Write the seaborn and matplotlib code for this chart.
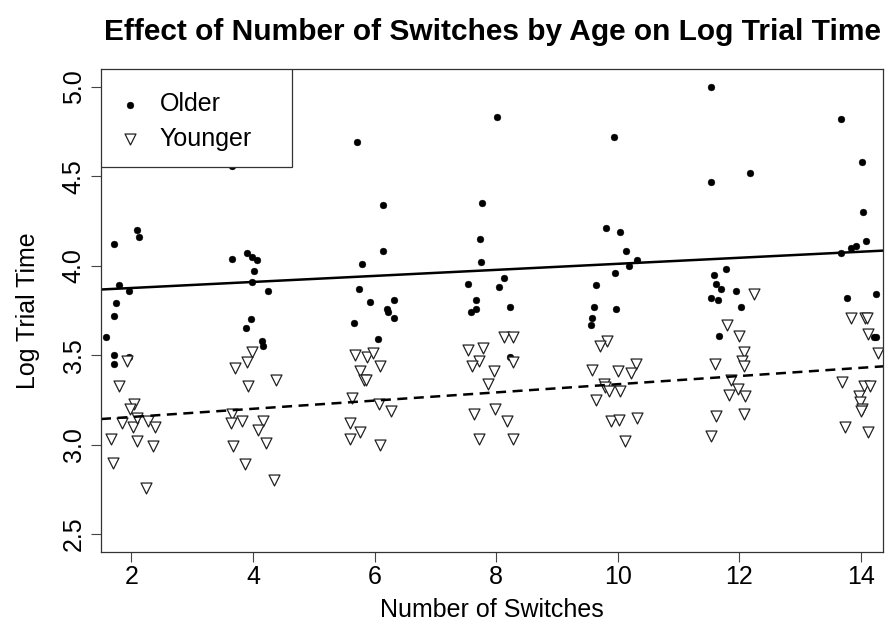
import numpy as np
import pandas as pd
import matplotlib
matplotlib.use("Agg")
import matplotlib.pyplot as plt
import seaborn as sns
from matplotlib.patches import Rectangle

# jittered points (x = number of switches + jitter)
older_x = [2.09, 2.13, 1.71, 1.79, 1.96, 1.75, 1.72, 1.59, 1.72, 1.72, 1.96,
           3.66, 3.66, 3.90, 3.98, 4.07, 4.02, 3.99, 4.25, 3.96, 3.89, 4.15, 4.16,
           5.71, 6.13, 6.13, 5.80, 5.74, 5.92, 6.32, 6.20, 6.22, 6.32, 5.66, 6.06,
           8.01, 7.77, 7.74, 7.75, 7.54, 8.12, 8.05, 7.67, 7.66, 7.59, 8.23, 8.23,
           9.93, 9.80, 10.03, 10.13, 10.31, 10.18, 9.96, 9.64, 9.60, 9.97, 9.58, 9.56,
           11.53, 11.53, 12.18, 11.77, 11.58, 11.61, 11.69, 11.94, 11.53, 11.65, 12.02, 11.67,
           13.67, 14.01, 14.03, 14.08, 13.91, 13.84, 13.67, 13.77, 14.24, 14.22, 14.24]
older_y = [4.20, 4.16, 4.12, 3.89, 3.86, 3.79, 3.72, 3.60, 3.50, 3.45, 3.49,
           4.56, 4.04, 4.07, 4.05, 4.03, 3.97, 3.91, 3.86, 3.70, 3.65, 3.58, 3.55,
           4.69, 4.34, 4.08, 4.01, 3.87, 3.80, 3.81, 3.76, 3.74, 3.71, 3.68, 3.59,
           4.83, 4.35, 4.15, 4.02, 3.90, 3.93, 3.88, 3.81, 3.76, 3.74, 3.77, 3.49,
           4.72, 4.21, 4.19, 4.08, 4.03, 4.00, 3.96, 3.89, 3.77, 3.76, 3.71, 3.67,
           5.00, 4.47, 4.52, 3.98, 3.95, 3.90, 3.87, 3.86, 3.82, 3.81, 3.77, 3.61,
           4.82, 4.58, 4.30, 4.14, 4.11, 4.10, 4.07, 3.82, 3.84, 3.60, 3.60]

younger_x = [1.92, 1.79, 2.05, 1.98, 1.85, 2.03, 2.09, 2.28, 2.39, 1.67, 2.09, 2.36, 1.69, 2.24,
             3.98, 3.90, 3.71, 3.92, 4.37, 3.66, 3.64, 3.82, 4.17, 4.09, 3.67, 4.21, 3.86, 4.35,
             5.68, 5.87, 5.97, 6.08, 5.76, 5.82, 5.86, 5.63, 6.07, 6.27, 5.60, 5.76, 5.59, 6.09,
             8.12, 8.27, 7.54, 7.79, 7.72, 7.60, 8.27, 7.97, 7.86, 7.64, 7.98, 8.18, 7.72, 8.27,
             9.82, 9.70, 9.58, 10.01, 10.30, 10.21, 9.77, 9.79, 9.86, 10.03, 9.64, 9.89, 10.02, 10.31, 10.12,
             12.24, 11.80, 12.00, 12.07, 12.04, 12.08, 11.60, 11.86, 11.97, 11.83, 12.09, 11.61, 12.08, 11.53,
             13.84, 14.07, 14.10, 14.11, 14.28, 13.68, 14.04, 14.14, 13.96, 13.98, 14.01, 14.00, 13.74, 14.12]
younger_y = [3.47, 3.33, 3.23, 3.20, 3.12, 3.10, 3.15, 3.13, 3.10, 3.03, 3.02, 2.99, 2.90, 2.76,
             3.52, 3.46, 3.43, 3.33, 3.36, 3.17, 3.12, 3.13, 3.13, 3.08, 2.99, 3.01, 2.89, 2.80,
             3.50, 3.49, 3.51, 3.44, 3.41, 3.36, 3.36, 3.26, 3.23, 3.19, 3.12, 3.07, 3.03, 3.00,
             3.60, 3.60, 3.53, 3.54, 3.47, 3.44, 3.46, 3.41, 3.34, 3.17, 3.20, 3.13, 3.03, 3.03,
             3.58, 3.55, 3.42, 3.41, 3.45, 3.40, 3.34, 3.32, 3.30, 3.30, 3.25, 3.13, 3.14, 3.15, 3.02,
             3.84, 3.67, 3.61, 3.52, 3.47, 3.44, 3.45, 3.36, 3.31, 3.28, 3.27, 3.16, 3.17, 3.05,
             3.71, 3.71, 3.71, 3.62, 3.51, 3.35, 3.33, 3.33, 3.27, 3.24, 3.20, 3.19, 3.10, 3.07]

# fitted lines (intercept, slope)
older_fit = [3.842, 0.0169]
younger_fit = [3.109, 0.0229]

x_ticks = [2, 4, 6, 8, 10, 12, 14]
y_ticks = [2.5, 3.0, 3.5, 4.0, 4.5, 5.0]

plt.rcParams['font.family'] = ['Liberation Sans', 'DejaVu Sans']

old = pd.DataFrame({"x": older_x, "y": older_y})
young = pd.DataFrame({"x": younger_x, "y": younger_y})

fig = plt.figure(figsize=(8.93, 6.43), dpi=100)
ax = fig.add_axes([101 / 893, 91 / 643, 782 / 893, 483 / 643])

sns.scatterplot(data=old, x="x", y="y", ax=ax, marker="o", s=24,
                color="black", edgecolor="black", linewidth=0.3, label="Older")
sns.scatterplot(data=young, x="x", y="y", ax=ax, marker="v", s=62,
                facecolor="white", edgecolor="#222222", linewidth=0.9, label="Younger")

ax.axline((0, older_fit[0]), slope=older_fit[1], color="black", lw=1.8)
ax.axline((0, younger_fit[0]), slope=younger_fit[1], color="black", lw=1.8,
          ls=(0, (4, 2.6)))

ax.set_xlim(1.5, 14.36)
ax.set_ylim(2.4, 5.1)
ax.set_xticks(x_ticks)
ax.set_yticks(y_ticks)
ax.set_yticklabels([f"{v:.1f}" for v in y_ticks], rotation=90, va="center")
ax.tick_params(axis="both", labelsize=18, length=7, width=0.8, color="#444444")
ax.tick_params(axis="x", pad=2.5)
ax.tick_params(axis="y", pad=4)
for sp in ax.spines.values():
    sp.set_linewidth(0.9)
    sp.set_color("#333333")

ax.set_xlabel("Number of Switches", fontsize=18, labelpad=6)
ax.set_ylabel("Log Trial Time", fontsize=18, labelpad=16)
ax.set_title("Effect of Number of Switches by Age on Log Trial Time",
             fontsize=21.5, fontweight="bold", pad=21)

# legend box like R's legend(): opaque, square, flush with the top-left corner
ax.add_patch(Rectangle((0, 0.797), 0.2442, 0.203, transform=ax.transAxes,
                       facecolor="white", edgecolor="#333333", lw=0.9, zorder=4))
leg = ax.legend(loc="upper left", bbox_to_anchor=(0.021, 0.952), borderaxespad=0,
                frameon=False, fontsize=18, handletextpad=0.7, borderpad=0,
                labelspacing=0.42, handlelength=1.0)
leg.set_zorder(5)

fig.savefig("out.png", dpi=100)
